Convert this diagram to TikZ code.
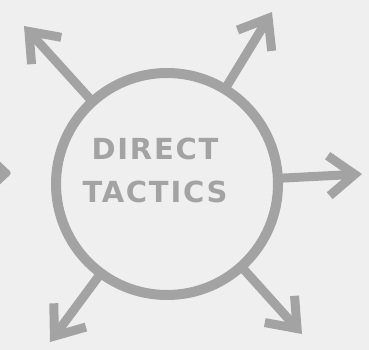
\documentclass[tikz,border=0pt]{standalone}
\usepackage{fontspec}
\newfontfamily\handfont[LetterSpace=6]{DejaVu Sans}
\usetikzlibrary{arrows.meta}
\definecolor{chalk}{HTML}{A3A3A3}
\definecolor{paper}{HTML}{EFEFEF}
\tikzset{
  spoke/.style={draw=chalk, line width=9pt, line cap=round, line join=round, -{Straight Barb[length=26pt, width=40pt]}},
  hubring/.style={draw=chalk, circle, line width=10pt, minimum size=222pt},
  caption/.style={text=chalk, font=\handfont\bfseries\fontsize{29}{43}\selectfont, align=center},
}
\begin{document}
\begin{tikzpicture}[x=1pt, y=-1pt]
\fill[paper] (0,0) rectangle (369,350);
\clip (0,0) rectangle (369,350);
\node[hubring] (hub) at (167,184) {};
\node[caption] (title) at (155,170) {DIRECT\\TACTICS};
% tips of the spokes
\coordinate (tipnw) at (24,26);
\coordinate (tipne) at (272,12);
\coordinate (tipe) at (362,174);
\coordinate (tipsw) at (50,342);
\coordinate (tipse) at (302,334);
\foreach \tip in {tipnw, tipne, tipe, tipsw, tipse}
  \draw[spoke] (hub) -- (\tip);
% stray arrow head at the left edge
\fill[chalk, rounded corners=3pt] (12,173) -- (-4,158) -- (-4,188) -- cycle;
\end{tikzpicture}
\end{document}
